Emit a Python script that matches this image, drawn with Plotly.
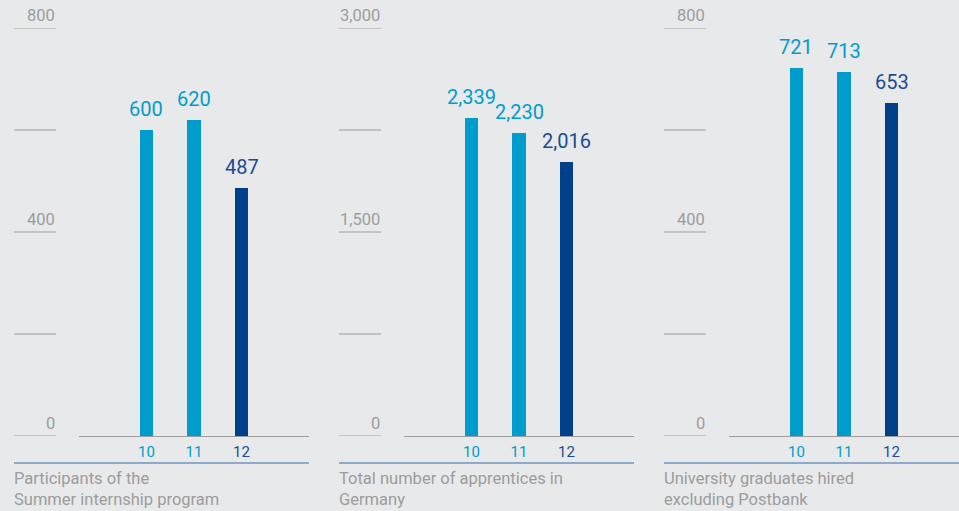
import plotly.graph_objects as go

# ---- data ----
years = ["10", "11", "12"]
titles = [
    "Participants of the<br>Summer internship program",
    "Total number of apprentices in<br>Germany",
    "University graduates hired<br>excluding Postbank",
]
internship = [600, 620, 487]
apprentices = [2339, 2230, 2016]
graduates = [721, 713, 653]
series = [internship, apprentices, graduates]
y_max = [800, 3000, 800]
grid_ticks = [[0, 200, 400, 600, 800], [0, 750, 1500, 2250, 3000], [0, 200, 400, 600, 800]]
labeled_ticks = [[0, 400, 800], [0, 1500, 3000], [0, 400, 800]]

# ---- style ----
W, H = 959, 511
BG = "#e8e9eb"
LIGHT = "#009ccb"
DARK = "#003f8a"
DARK_TXT = "#1b4b93"
GRAY = "#9c9c9c"
FONT = "Roboto"
bar_colors = [LIGHT, LIGHT, DARK]
txt_colors = [LIGHT, LIGHT, DARK_TXT]

def px_x(x):
    return x / W

def px_y(y):
    return 1 - y / H

panel_left = [14, 339, 664]       # left of tick-line zone
plot_left = [79, 404, 729]
plot_right = [309, 634, 959]
y_top, y_base = 28, 436

fig = go.Figure()
shapes = []
annotations = []

for i in range(3):
    sfx = "" if i == 0 else str(i + 1)
    xa, ya = "x" + sfx, "y" + sfx
    fig.add_trace(go.Bar(
        x=years, y=series[i], marker=dict(color=bar_colors, line=dict(width=0)),
        width=0.285, xaxis=xa, yaxis=ya, hoverinfo="skip", showlegend=False,
    ))
    ticktext = [f'<span style="color:{c}">{t}</span>' for t, c in zip(years, txt_colors)]
    fig.layout["xaxis" + sfx] = dict(
        domain=[px_x(plot_left[i]), px_x(plot_right[i])],
        anchor=ya, type="category", range=[-1.42, 3.42],
        showline=True, linecolor=GRAY, linewidth=1,
        showgrid=False, zeroline=False, ticks="",
        tickvals=years, ticktext=ticktext,
        tickfont=dict(family=FONT, size=15), ticklabelstandoff=2,
        fixedrange=True,
    )
    fig.layout["yaxis" + sfx] = dict(
        domain=[px_y(y_base), px_y(y_top)], anchor=xa,
        range=[0, y_max[i]], visible=False, fixedrange=True,
    )
    # value labels (x given as category index)
    for j, v in enumerate(series[i]):
        annotations.append(dict(
            x=j, y=v, xref=xa, yref=ya, text=f"{v:,}", showarrow=False,
            yanchor="bottom", yshift=7,
            font=dict(family=FONT, size=20, color=txt_colors[j]),
        ))
    # short y tick lines
    for t in grid_ticks[i]:
        shapes.append(dict(
            type="line", xref="paper", yref=ya,
            x0=px_x(panel_left[i]), x1=px_x(panel_left[i] + 42), y0=t, y1=t,
            line=dict(color=GRAY, width=1),
        ))
    for t in labeled_ticks[i]:
        annotations.append(dict(
            x=px_x(panel_left[i] + 42), y=t, xref="paper", yref=ya,
            text=f"{t:,}", showarrow=False, xanchor="right", yanchor="bottom",
            yshift=1, xshift=1, font=dict(family=FONT, size=16.5, color=GRAY),
        ))
    # blue separator line
    shapes.append(dict(
        type="line", xref="paper", yref="paper",
        x0=px_x(panel_left[i]), x1=px_x(plot_right[i]),
        y0=px_y(463), y1=px_y(463),
        line=dict(color="#6f93c2", width=1.5),
    ))
    # panel title
    annotations.append(dict(
        x=px_x(panel_left[i]), y=px_y(467), xref="paper", yref="paper",
        text=titles[i], showarrow=False, xanchor="left", yanchor="top",
        align="left", xshift=-2, font=dict(family=FONT, size=16.5, color=GRAY),
    ))

fig.update_layout(
    width=W, height=H, margin=dict(l=0, r=0, t=0, b=0),
    paper_bgcolor=BG, plot_bgcolor=BG,
    shapes=shapes, annotations=annotations, bargap=0,
)
fig.write_html("out.html", config={"displayModeBar": False},
               post_script="document.body.style.margin='0';")
